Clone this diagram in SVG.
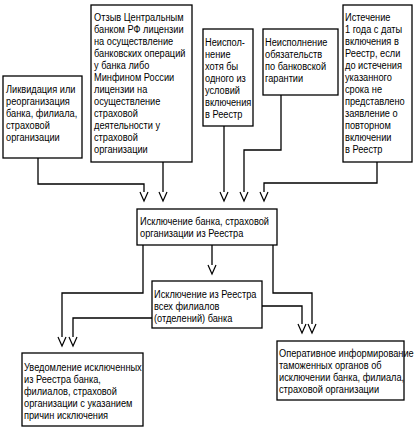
<svg xmlns="http://www.w3.org/2000/svg" width="418" height="430" viewBox="0 0 418 430">
<style>
.box{fill:#fff;stroke:#000;stroke-width:1.3}
.t{font-family:"Liberation Sans",Arial,sans-serif;font-size:11px;fill:#000}
.c{fill:none;stroke:#000;stroke-width:1.3}
</style>
<defs>
<path id="v" d="M-4,0 L0,9 L4,0" fill="none" stroke="#000" stroke-width="1.2"/>
</defs>
<rect width="418" height="430" fill="#fff"/>
<g id="connectors">
<polyline class="c" points="38,158 38,184 144,184 144,192"/>
<polyline class="c" points="163,162 163,192"/>
<polyline class="c" points="224,126 224,192"/>
<polyline class="c" points="281,95 281,150 244,150 244,192"/>
<polyline class="c" points="377,162 377,183 264,183 264,192"/>
<polyline class="c" points="212,245 212,265"/>
<polyline class="c" points="143,245 143,293 62,293 62,337"/>
<polyline class="c" points="152,318 73,318 73,337"/>
<polyline class="c" points="273,245 273,293 312,293 312,324"/>
<polyline class="c" points="262,306 302,306 302,324"/>
<use href="#v" x="144" y="192"/>
<use href="#v" x="163" y="192"/>
<use href="#v" x="224" y="192"/>
<use href="#v" x="244" y="192"/>
<use href="#v" x="264" y="192"/>
<use href="#v" x="212" y="265"/>
<use href="#v" x="62" y="337"/>
<use href="#v" x="73" y="337"/>
<use href="#v" x="302" y="324"/>
<use href="#v" x="312" y="324"/>
</g>
<g id="nodeA">
<rect class="box" x="3" y="76" width="79" height="82"/>
<text class="t" transform="translate(6,0) scale(0.84,1)"><tspan x="0" y="93">Ликвидация или</tspan><tspan x="0" y="105">реорганизация</tspan><tspan x="0" y="117">банка, филиала,</tspan><tspan x="0" y="129">страховой</tspan><tspan x="0" y="141">организации</tspan></text>
</g>
<g id="nodeB">
<rect class="box" x="91" y="5" width="101" height="157"/>
<text class="t" transform="translate(94,0) scale(0.84,1)"><tspan x="0" y="21">Отзыв Центральным</tspan><tspan x="0" y="33">банком РФ лицензии</tspan><tspan x="0" y="45">на осуществление</tspan><tspan x="0" y="57">банковских операций</tspan><tspan x="0" y="69">у банка либо</tspan><tspan x="0" y="81">Минфином России</tspan><tspan x="0" y="93">лицензии на</tspan><tspan x="0" y="105">осуществление</tspan><tspan x="0" y="117">страховой</tspan><tspan x="0" y="129">деятельности у</tspan><tspan x="0" y="141">страховой</tspan><tspan x="0" y="153">организации</tspan></text>
</g>
<g id="nodeC">
<rect class="box" x="203" y="29" width="50" height="97"/>
<text class="t" transform="translate(205,0) scale(0.84,1)"><tspan x="0" y="46">Неиспол-</tspan><tspan x="0" y="58">нение</tspan><tspan x="0" y="70">хотя бы</tspan><tspan x="0" y="82">одного из</tspan><tspan x="0" y="94">условий</tspan><tspan x="0" y="106">включения</tspan><tspan x="0" y="118">в Реестр</tspan></text>
</g>
<g id="nodeD">
<rect class="box" x="263" y="29" width="75" height="66"/>
<text class="t" transform="translate(265,0) scale(0.84,1)"><tspan x="0" y="46">Неисполнение</tspan><tspan x="0" y="58">обязательств</tspan><tspan x="0" y="70">по банковской</tspan><tspan x="0" y="82">гарантии</tspan></text>
</g>
<g id="nodeE">
<rect class="box" x="343" y="5" width="69" height="157"/>
<text class="t" transform="translate(345,0) scale(0.84,1)"><tspan x="0" y="21">Истечение</tspan><tspan x="0" y="33">1 года с даты</tspan><tspan x="0" y="45">включения в</tspan><tspan x="0" y="57">Реестр, если</tspan><tspan x="0" y="69">до истечения</tspan><tspan x="0" y="81">указанного</tspan><tspan x="0" y="93">срока не</tspan><tspan x="0" y="105">представлено</tspan><tspan x="0" y="117">заявление о</tspan><tspan x="0" y="129">повторном</tspan><tspan x="0" y="141">включении</tspan><tspan x="0" y="153">в Реестр</tspan></text>
</g>
<g id="nodeF">
<rect class="box" x="137" y="209" width="140" height="36"/>
<text class="t" transform="translate(140,0) scale(0.84,1)"><tspan x="0" y="225">Исключение банка, страховой</tspan><tspan x="0" y="237">организации из Реестра</tspan></text>
</g>
<g id="nodeG">
<rect class="box" x="152" y="281" width="110" height="47"/>
<text class="t" transform="translate(154,0) scale(0.84,1)"><tspan x="0" y="298">Исключение из Реестра</tspan><tspan x="0" y="310">всех филиалов</tspan><tspan x="0" y="322">(отделений) банка</tspan></text>
</g>
<g id="nodeH">
<rect class="box" x="22" y="353" width="121" height="73"/>
<text class="t" transform="translate(24,0) scale(0.84,1)"><tspan x="0" y="371">Уведомление исключенных</tspan><tspan x="0" y="383">из Реестра банка,</tspan><tspan x="0" y="395">филиалов, страховой</tspan><tspan x="0" y="407">организации с указанием</tspan><tspan x="0" y="419">причин исключения</tspan></text>
</g>
<g id="nodeI">
<rect class="box" x="277" y="341" width="127" height="59"/>
<text class="t" transform="translate(279,0) scale(0.84,1)"><tspan x="0" y="357">Оперативное информирование</tspan><tspan x="0" y="369">таможенных органов об</tspan><tspan x="0" y="381">исключении банка, филиала,</tspan><tspan x="0" y="393">страховой организации</tspan></text>
</g>
</svg>
